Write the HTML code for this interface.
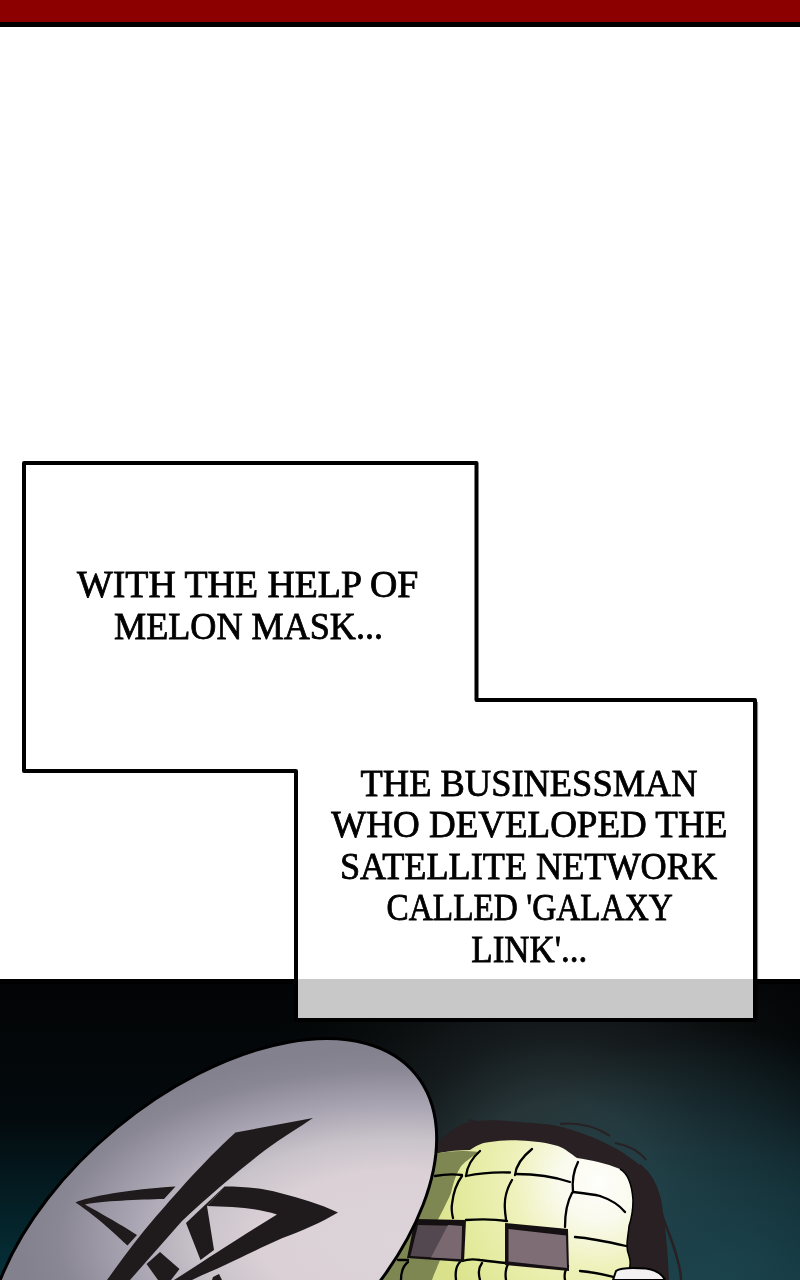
<!DOCTYPE html>
<html><head><meta charset="utf-8">
<style>
html,body{margin:0;padding:0;}
body{width:800px;height:1280px;position:relative;overflow:hidden;background:#fff;}
#bar{position:absolute;left:0;top:0;width:800px;height:22px;background:#8c0000;}
#barline{position:absolute;left:0;top:22px;width:800px;height:5px;background:#000;}
</style></head>
<body>
<div id="bar"></div><div id="barline"></div>
<svg id="art" width="800" height="301" viewBox="0 979 800 301" style="position:absolute;left:0;top:979px">
  <defs>
    <linearGradient id="bgv" x1="0" y1="985" x2="0" y2="1280" gradientUnits="userSpaceOnUse">
      <stop offset="0" stop-color="#030405"/>
      <stop offset="0.45" stop-color="#030a0d"/>
      <stop offset="1" stop-color="#05313a"/>
    </linearGradient>
    <radialGradient id="bgg" cx="560" cy="1200" r="330" gradientUnits="userSpaceOnUse">
      <stop offset="0" stop-color="#2b3c40" stop-opacity="1"/>
      <stop offset="0.3" stop-color="#28373a" stop-opacity="0.95"/>
      <stop offset="0.5" stop-color="#1b2224" stop-opacity="0.8"/>
      <stop offset="0.75" stop-color="#121516" stop-opacity="0.45"/>
      <stop offset="1" stop-color="#0a0c0d" stop-opacity="0"/>
    </radialGradient>
    <radialGradient id="bg" cx="720" cy="1290" r="260" gradientUnits="userSpaceOnUse">
      <stop offset="0" stop-color="#1c4650" stop-opacity="0.95"/>
      <stop offset="0.5" stop-color="#1c4650" stop-opacity="0.55"/>
      <stop offset="1" stop-color="#1c4650" stop-opacity="0"/>
    </radialGradient>
    <radialGradient id="disc" cx="400" cy="1240" r="380" gradientUnits="userSpaceOnUse" gradientTransform="translate(400 1240) scale(1 0.5) translate(-400 -1240)">
      <stop offset="0" stop-color="#ddd4da"/>
      <stop offset="0.37" stop-color="#dad0d6"/>
      <stop offset="0.53" stop-color="#c9c3ca"/>
      <stop offset="0.7" stop-color="#aba6b3"/>
      <stop offset="0.9" stop-color="#8a8794"/>
      <stop offset="1" stop-color="#84818f"/>
    </radialGradient>
    <radialGradient id="corn" cx="598" cy="1182" r="175" gradientUnits="userSpaceOnUse">
      <stop offset="0" stop-color="#fefefb"/>
      <stop offset="0.22" stop-color="#fafaee"/>
      <stop offset="0.5" stop-color="#eef1b9"/>
      <stop offset="0.8" stop-color="#e3ea9c"/>
      <stop offset="1" stop-color="#d9e28a"/>
    </radialGradient>
  </defs>
  <rect x="0" y="979" width="800" height="301" fill="url(#bgv)"/>
  <rect x="0" y="979" width="800" height="301" fill="url(#bgg)"/>
  <rect x="0" y="979" width="800" height="301" fill="url(#bg)"/>
  <rect x="0" y="979" width="800" height="5" fill="#000"/>

  <!-- hair -->
  <path d="M420 1190 L436 1146 C442 1136 452 1130 462 1124 C480 1119 500 1120 518 1122 C535 1123 550 1124 562 1127 C580 1132 595 1138 605 1143 C620 1150 635 1160 648 1172 C656 1182 660 1192 662 1205 C666 1230 668 1255 669 1280 L400 1280 Z" fill="#282022"/>
  <path d="M468 1120 C474 1121 480 1123 485 1126" fill="none" stroke="#282022" stroke-width="2"/>
  <path d="M560 1124 C580 1122 598 1128 610 1136" fill="none" stroke="#282022" stroke-width="2"/>
  <path d="M615 1143 C630 1146 640 1152 646 1160" fill="none" stroke="#282022" stroke-width="2"/>
  <path d="M640 1165 C652 1175 656 1185 658 1195" fill="none" stroke="#282022" stroke-width="2"/>
  <path d="M662 1215 C668 1232 674 1245 677 1258 C680 1268 681 1275 681 1280" fill="none" stroke="#282022" stroke-width="2.5"/>

  <!-- corn -->
  <path d="M436 1153.5 C448 1151 460 1150 470 1150 C476 1146 480 1143 490 1142 C500 1140.5 510 1140 520 1140.5 C535 1141 548 1143 558 1146 C566 1149 571 1154 577 1158 C590 1160 606 1163 620 1169 C629 1174 632 1185 633 1200 C633 1212 631 1220 629 1226 C628 1238 625 1246 629 1256 C632 1265 629 1274 622 1280 L370 1280 L425 1160 Z" fill="url(#corn)"/>
  <!-- shadow crescent -->
  <path d="M436 1153.5 C448 1151 462 1150 479 1152 C470 1158 463 1163 460 1168 C455 1176 453 1185 451 1193 C446 1205 440 1215 437 1222 L440 1260 C437 1268 434 1274 432 1280 L370 1280 L425 1160 Z" fill="#7e8752"/>
  <path d="M620 1169 C629 1174 632 1185 633 1200 C633 1212 631 1220 629 1226 C628 1238 625 1246 629 1256 C632 1265 629 1274 622 1280" fill="none" stroke="#000" stroke-width="1.5"/>
  <!-- kernel lines -->
  <g fill="none" stroke="#000" stroke-width="2.3" stroke-linecap="round">
    <path d="M435 1176 C445 1174 455 1174 462 1175"/>
    <path d="M466 1176 C480 1173 495 1172 510 1172.5"/>
    <path d="M516 1174 C535 1174 555 1177 570 1182"/>
    <path d="M573 1192 C582 1193 592 1194 600 1196"/>
    <path d="M600 1196 C612 1200 620 1206 625 1212"/>
    <path d="M480 1151 C472 1158 467 1166 466 1176"/>
    <path d="M532 1149 C522 1157 516 1165 515 1175"/>
    <path d="M578 1162 C573 1172 572 1182 573 1192"/>
    <path d="M462 1176 C456 1184 453 1195 452 1204 C451 1210 452 1214 453 1218"/>
    <path d="M512 1180 C506 1190 504 1200 505 1210 C505 1214 506 1217 506 1220"/>
    <path d="M572 1193 C567 1202 565 1212 565 1227"/>
    <path d="M466 1220 C480 1219 494 1219 507 1221"/>
    <path d="M575 1237 C588 1238 600 1240 626 1246"/>
    
    
    
    
    <path d="M462 1261 C468 1259 474 1259 480 1260 C488 1261 496 1262 506 1263"/>
    <path d="M460 1262 C456 1266 455 1272 456 1280"/>
    <path d="M482 1263 C479 1267 478 1273 480 1280"/>
    <path d="M508 1264 C506 1268 505 1274 506 1280"/>
    <path d="M398 1260 C402 1260 405 1260 408 1260"/>
    <path d="M408 1262 C403 1266 401 1272 401 1280"/>
    <path d="M568 1266 C565 1270 564 1275 565 1280"/>
    <path d="M580 1271 C595 1272 605 1275 618 1278"/>
    
    
  </g>
  <!-- goggles -->
  <path d="M415 1219 L466 1220 L464 1262 L407 1258 Z" fill="#140f10"/>
  <path d="M418 1225 L462 1226 L461 1259 L410.5 1256 Z" fill="#544850"/>
  <path d="M448 1225 L462 1226 L461 1259 L431 1257.5 Z" fill="#7a6870"/>
  <path d="M505 1223 L568 1229 L569 1271 L505 1265 Z" fill="#140f10"/>
  <path d="M508.5 1229 L566 1235.5 L567 1268 L508.5 1261.5 Z" fill="#7f6d75"/>

  <!-- white object -->
  <path d="M613 1280 L616 1271 C620 1268 632 1267.5 646 1268.5 C656 1270 662 1274 665 1280 Z" fill="#f3f1f1" stroke="#000" stroke-width="2"/>

  <!-- disc -->
  <path d="M415.5 1074.0 A265 149.2 -39.64 1 0 7.3 1412.2 A265 149.2 -39.64 1 0 415.5 1074.0 Z" fill="url(#disc)" stroke="#000" stroke-width="3"/>
  <!-- symbol -->
  <g fill="#1f1a1c">
    <path d="M235.5 1132.5 L313 1118 C300 1127 285 1136 274 1143.75 C255 1157 215 1190 182 1221 L130 1280 L107 1280 C125 1255 140 1235 153 1220 C175 1195 200 1165 235.5 1132.5 Z"/>
    <path d="M75.5 1202.5 C88 1197 130 1189 175.5 1186.6 L164 1199 C140 1199.5 100 1201 85 1204.5 C95 1210 120 1224 137 1235 L127.5 1245.5 C118 1237 100 1219 75.5 1202.5 Z"/>
    <path d="M224.5 1186.5 C245 1186.5 262 1188 280 1193 C300 1198 320 1204 338 1212.5 C322 1222 300 1232 282.5 1238 C262 1247 240 1258 225 1265 C212 1271 200 1276 192 1280 L174 1280 C190 1270 205 1260 216 1253 C235 1241 255 1228 277 1214.5 C262 1210 248 1208 232 1207 L207 1206 Z"/>
    <path d="M224.5 1186.5 L207 1206 L214 1250 L200.5 1260 L186 1223 Z"/>
    <path d="M146.5 1264 L160 1252 L179.5 1269 L171 1280 L158 1280 Z"/>
    <path d="M213 1277 L219 1274 L222 1280 L212 1280 Z"/>
  </g>
</svg>

<svg id="boxes" width="800" height="1280" style="position:absolute;left:0;top:0;will-change:transform">
  <path d="M24 463 H476.5 V700 H755 V1020 H296 V771 H24 Z" fill="none" stroke="#000" stroke-width="4" stroke-linejoin="round"/>
  <rect x="298" y="979" width="455" height="39" fill="#c8c8c8"/>
  <rect x="756.5" y="702" width="1.6" height="318" fill="#000" fill-opacity="0.45"/>
  <g font-family="Liberation Serif" font-size="37.5" fill="#000" stroke="#000" stroke-width="0.8">
  <text x="20" y="597.5" transform="translate(56.82 0) scale(1.0089 1)" xml:space="preserve">WITH THE HELP OF</text><text x="20" y="638.9" transform="translate(94.76 0) scale(0.9638 1)" xml:space="preserve">MELON MASK...</text><text x="20" y="795.6" transform="translate(341.16 0) scale(0.9718 1)" xml:space="preserve">THE BUSINESSMAN</text><text x="20" y="837.3" transform="translate(311.56 0) scale(0.9868 1)" xml:space="preserve">WHO DEVELOPED THE</text><text x="20" y="879" transform="translate(320.66 0) scale(0.9656 1)" xml:space="preserve">SATELLITE NETWORK</text><text x="20" y="919.8" transform="translate(368.86 0) scale(0.8879 1)" xml:space="preserve">CALLED &#39;GALAXY</text><text x="20" y="962.3" transform="translate(452.73 0) scale(0.932 1)" xml:space="preserve">LINK&#39;...</text>
  </g>
</svg>
</body></html>
